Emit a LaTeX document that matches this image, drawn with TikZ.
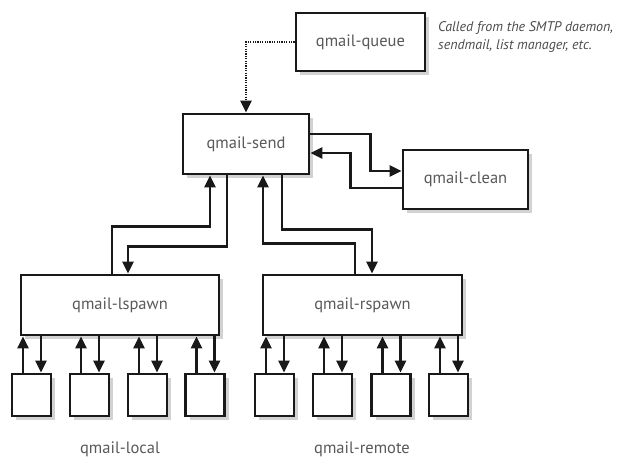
\documentclass[tikz,border=0pt]{standalone}
\usepackage{fontspec}
\setmainfont{PT Sans}
\usetikzlibrary{arrows.meta,shadows,calc}
\begin{document}
\begin{tikzpicture}[x=1pt,y=-1pt,
  box/.style={draw=black!90,line width=2.8pt,fill=white,inner sep=0pt,
    drop shadow={shadow xshift=4pt,shadow yshift=-4pt,fill=black!25,opacity=0.7},
    font=\fontsize{16.5}{19}\selectfont,text=black!65},
  child/.style={box,minimum width=39pt,minimum height=42pt},
  arr/.style={draw=black!90,line width=2.8pt,-{Triangle[length=12pt,width=11pt]}},
  dotarr/.style={draw=black!90,line width=2.4pt,dash pattern=on 1.2pt off 1.2pt,-{Triangle[length=12pt,width=11pt]}},
  lbl/.style={font=\fontsize{16.5}{19}\selectfont,text=black!65}]
\path[fill=white,use as bounding box] (0,0) rectangle (643,457);
\node[box,minimum width=129pt,minimum height=58pt] (queue) at (360.5,42) {qmail-queue};
\node[box,minimum width=126pt,minimum height=60pt] (send) at (246,144) {qmail-send};
\node[box,minimum width=125pt,minimum height=59pt] (clean) at (465.5,179.5) {qmail-clean};
\node[box,minimum width=198pt,minimum height=60pt] (lspawn) at (120,305) {qmail-lspawn};
\node[box,minimum width=199pt,minimum height=60pt] (rspawn) at (362.5,305) {qmail-rspawn};
\node[anchor=north west,align=left,inner sep=0pt,font=\itshape\fontsize{14}{18}\selectfont,text=black!70] (note) at (438,21)
  {Called from the SMTP daemon,\\sendmail, list manager, etc.};
\foreach \n/\x in {l1/31.5,l2/89.5,l3/147.5,l4/205,r1/274.5,r2/332.5,r3/391,r4/448.5}
  \node[child] (\n) at (\x,395) {};
\node[lbl] (llabel) at (120,449) {qmail-local};
\node[lbl] (rlabel) at (362,449) {qmail-remote};
% queue -> send
\draw[dotarr] (queue.west) -| (send.north);
% send <-> clean
\draw[arr] ([yshift=10pt]send.east) -- ++(60,0) |- ([yshift=8.5pt]clean.west);
\draw[arr] ([yshift=-8.5pt]clean.west) -- ++(-51,0) |- ([yshift=-9pt]send.east);
% send <-> lspawn
\draw[arr] ([xshift=-19pt]send.south) -- ++(0,71) -| ([xshift=8pt]lspawn.north);
\draw[arr] ([xshift=-8pt]lspawn.north) -- ++(0,-47) -| ([xshift=-36pt]send.south);
% send <-> rspawn
\draw[arr] ([xshift=-7.5pt]rspawn.north) -- ++(0,-30) -| ([xshift=17pt]send.south);
\draw[arr] ([xshift=36pt]send.south) -- ++(0,54) -| ([xshift=9.5pt]rspawn.north);
% spawn <-> children
\foreach \n in {l1,l2,l3,l4}{
  \draw[arr] ([xshift=-8.5pt]\n.north) -- ([xshift=-8.5pt]\n.north |- lspawn.south);
  \draw[arr] ([xshift=9.5pt]\n.north |- lspawn.south) -- ([xshift=9.5pt]\n.north);
}
\foreach \n in {r1,r2,r3,r4}{
  \draw[arr] ([xshift=-8.5pt]\n.north) -- ([xshift=-8.5pt]\n.north |- rspawn.south);
  \draw[arr] ([xshift=9.5pt]\n.north |- rspawn.south) -- ([xshift=9.5pt]\n.north);
}
\end{tikzpicture}
\end{document}
